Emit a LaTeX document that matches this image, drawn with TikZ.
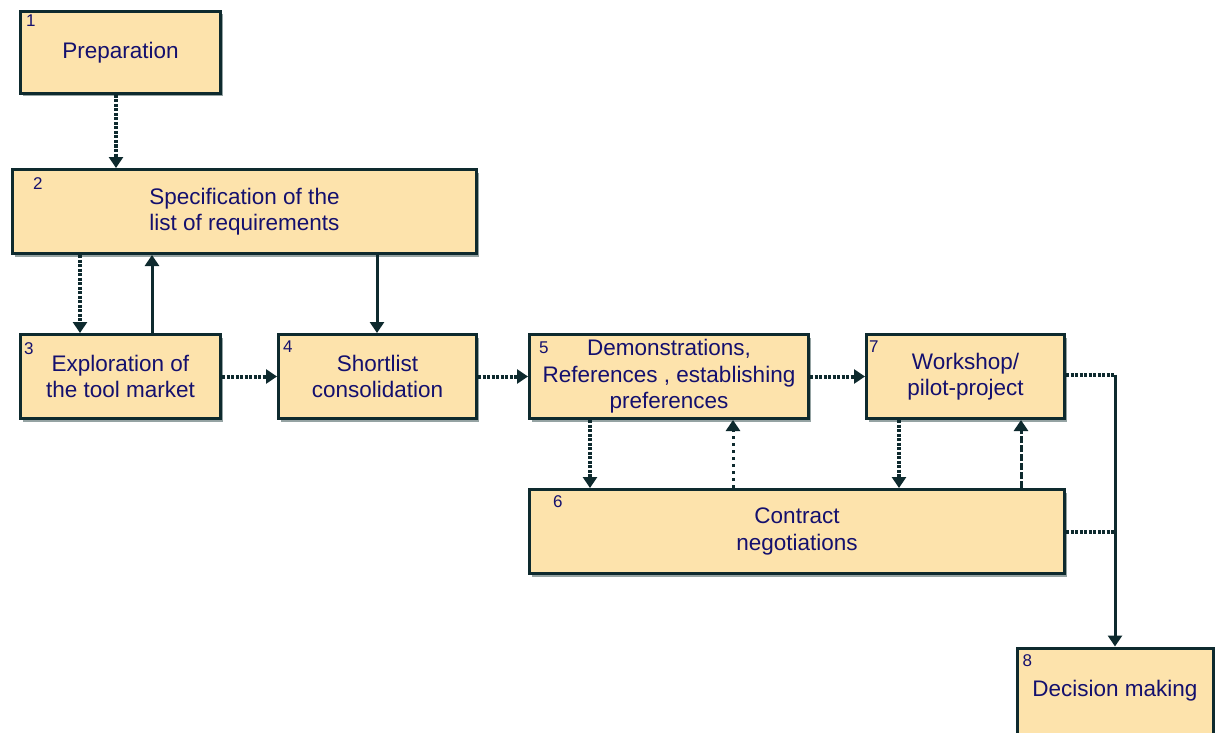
\documentclass[tikz,border=0pt]{standalone}
\usepackage{fontspec}
\setmainfont{Liberation Sans}
\usetikzlibrary{arrows.meta,calc,shadows}
\definecolor{boxfill}{HTML}{FDE3AC}
\definecolor{boxline}{HTML}{0E2A2E}
\definecolor{inkblue}{HTML}{14106E}
\definecolor{shade}{HTML}{7A8C8C}

\begin{document}
\begin{tikzpicture}[x=1pt,y=-1pt,
  stage/.style={draw=boxline, line width=3pt, fill=boxfill, text=inkblue,
    font=\fontsize{22.5}{26.5}\selectfont, align=center, inner sep=0pt,
    drop shadow={shadow xshift=2pt, shadow yshift=-3pt, fill=shade, opacity=0.8}},
  num/.style={text=inkblue, font=\fontsize{17}{17}\selectfont, inner sep=0pt, anchor=north west},
  link/.style={draw=boxline, line width=3pt, -{Triangle[width=14pt,length=11pt]}},
  dotlink/.style={link, line width=4pt, dash pattern=on 3pt off 1.5pt},
  sparselink/.style={link, dash pattern=on 3pt off 4pt},
  dashlink/.style={link, dash pattern=on 7pt off 2pt},
  plainline/.style={draw=boxline, line width=3pt},
  dotline/.style={plainline, line width=4pt, dash pattern=on 3pt off 1.5pt}]

\clip (0,0) rectangle (1215,733);
\useasboundingbox (0,0) rectangle (1215,733);

% process stages
\node[stage, minimum width=200pt, minimum height=82pt] (b1) at (120.5,52.5) {Preparation};
\node[stage, minimum width=464pt, minimum height=84pt] (b2) at (244.5,211.5) {Specification of the\\list of requirements};
\node[stage, minimum width=200pt, minimum height=84pt] (b3) at (120.5,376.5) {Exploration of\\the tool market};
\node[stage, minimum width=198pt, minimum height=84pt] (b4) at (377.5,376.5) {Shortlist\\consolidation};
\node[stage, minimum width=279pt, minimum height=84pt] (b5) at (669,376.5) {Demonstrations,\\References , establishing\\preferences};
\node[stage, minimum width=198pt, minimum height=84pt] (b7) at (965.5,376.5) {Workshop/\\pilot-project};
\node[stage, minimum width=535pt, minimum height=84pt] (b6) at (797,531.5) {Contract\\negotiations};
\node[stage, minimum width=196pt, minimum height=86pt] (b8) at (1115,691) {Decision making};

% stage numbers
\node[num] (n1) at ([xshift=7pt,yshift=-5pt]b1.north west) {1};
\node[num] (n2) at ([xshift=22pt,yshift=-9pt]b2.north west) {2};
\node[num] (n3) at ([xshift=5pt,yshift=-9pt]b3.north west) {3};
\node[num] (n4) at ([xshift=6pt,yshift=-8pt]b4.north west) {4};
\node[num] (n5) at ([xshift=11pt,yshift=-9pt]b5.north west) {5};
\node[num] (n7) at ([xshift=4pt,yshift=-8pt]b7.north west) {7};
\node[num] (n6) at ([xshift=25pt,yshift=-7pt]b6.north west) {6};
\node[num] (n8) at ([xshift=7pt,yshift=-8pt]b8.north west) {8};

% anchor points of the vertical connectors
\coordinate (c12) at ($(b1.south west)+(97,0)$);
\coordinate (c23) at ($(b2.south west)+(69,0)$);
\coordinate (c32) at ($(b3.north west)+(133,0)$);
\coordinate (c24) at ($(b4.north west)+(100,0)$);
\coordinate (c56) at ($(b5.south west)+(62,0)$);
\coordinate (c65) at ($(b6.north west)+(205,0)$);
\coordinate (c76) at ($(b7.south west)+(34,0)$);
\coordinate (c67) at ($(b6.north west)+(493,0)$);
\coordinate (c7e) at ($(b7.east)+(0,-2)$);
\coordinate (turn) at ($(b8.north)+(0,0)$);
\coordinate (corner) at (turn |- c7e);
\coordinate (join) at (turn |- b6.east);

% connectors
\draw[dotlink] (c12) -- (c12 |- b2.north);
\draw[dotlink] (c23) -- (c23 |- b3.north);
\draw[link] (c32) -- (c32 |- b2.south);
\draw[link] (c24 |- b2.south) -- (c24);
\draw[dotlink] (b3.east) -- (b4.west);
\draw[dotlink] (b4.east) -- (b5.west);
\draw[dotlink] (b5.east) -- (b7.west);
\draw[dotlink] (c56) -- (c56 |- b6.north);
\draw[sparselink] (c65) -- (c65 |- b5.south);
\draw[dotlink] (c76) -- (c76 |- b6.north);
\draw[dashlink] (c67) -- (c67 |- b7.south);
\draw[dotline] (c7e) -- (corner);
\draw[dotline] (b6.east) -- (join);
\draw[link] (corner) -- (b8.north);

\end{tikzpicture}
\end{document}
